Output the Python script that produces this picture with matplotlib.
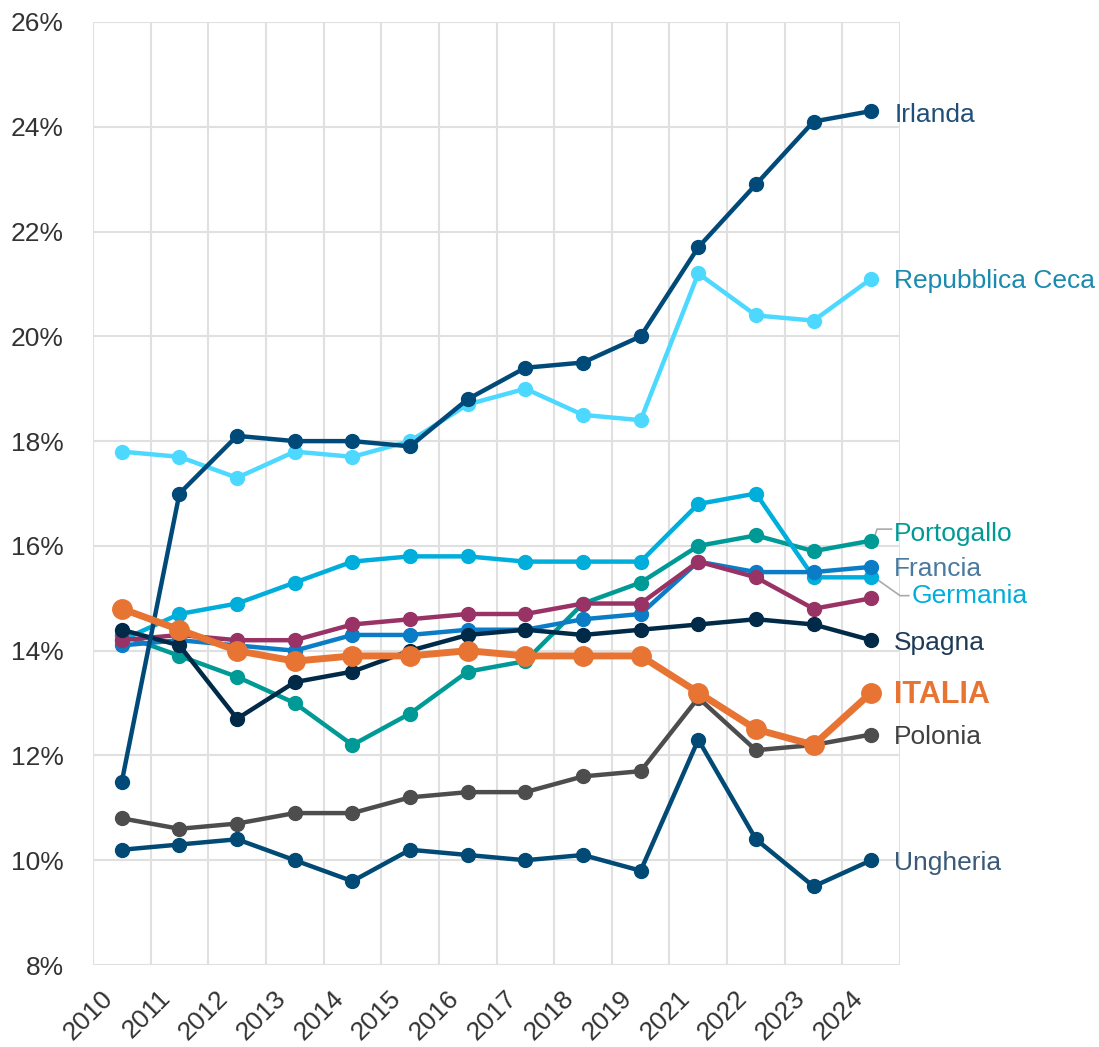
import numpy as np
import matplotlib
matplotlib.use("Agg")
import matplotlib.pyplot as plt
from matplotlib.ticker import FuncFormatter

plt.rcParams['font.family'] = ['Liberation Sans Narrow', 'Liberation Sans', 'DejaVu Sans']

anni = ['2010', '2011', '2012', '2013', '2014', '2015', '2016', '2017', '2018',
        '2019', '2021', '2022', '2023', '2024']

polonia = [10.8, 10.6, 10.7, 10.9, 10.9, 11.2, 11.3, 11.3, 11.6, 11.7, 13.1, 12.1, 12.2, 12.4]
ungheria = [10.2, 10.3, 10.4, 10.0, 9.6, 10.2, 10.1, 10.0, 10.1, 9.8, 12.3, 10.4, 9.5, 10.0]
portogallo = [14.3, 13.9, 13.5, 13.0, 12.2, 12.8, 13.6, 13.8, 14.9, 15.3, 16.0, 16.2, 15.9, 16.1]
germania = [14.2, 14.7, 14.9, 15.3, 15.7, 15.8, 15.8, 15.7, 15.7, 15.7, 16.8, 17.0, 15.4, 15.4]
francia = [14.1, 14.2, 14.1, 14.0, 14.3, 14.3, 14.4, 14.4, 14.6, 14.7, 15.7, 15.5, 15.5, 15.6]
altro = [14.2, 14.3, 14.2, 14.2, 14.5, 14.6, 14.7, 14.7, 14.9, 14.9, 15.7, 15.4, 14.8, 15.0]
spagna = [14.4, 14.1, 12.7, 13.4, 13.6, 14.0, 14.3, 14.4, 14.3, 14.4, 14.5, 14.6, 14.5, 14.2]
rep_ceca = [17.8, 17.7, 17.3, 17.8, 17.7, 18.0, 18.7, 19.0, 18.5, 18.4, 21.2, 20.4, 20.3, 21.1]
irlanda = [11.5, 17.0, 18.1, 18.0, 18.0, 17.9, 18.8, 19.4, 19.5, 20.0, 21.7, 22.9, 24.1, 24.3]
italia = [14.8, 14.4, 14.0, 13.8, 13.9, 13.9, 14.0, 13.9, 13.9, 13.9, 13.2, 12.5, 12.2, 13.2]

# (valori, colore linea, etichetta, colore etichetta, y etichetta)
serie = [
    (polonia, '#4d4d4d', 'Polonia', '#404040', 12.35),
    (ungheria, '#004a75', 'Ungheria', '#3a5a78', 9.95),
    (portogallo, '#009a96', 'Portogallo', '#009a96', 16.22),
    (germania, '#00aedb', 'Germania', '#00aedb', 15.05),
    (francia, '#0b7dc6', 'Francia', '#4a7a9f', 15.55),
    (altro, '#993366', None, None, None),
    (spagna, '#002a48', 'Spagna', '#1f3a55', 14.15),
    (rep_ceca, '#4dd9ff', 'Repubblica Ceca', '#1a8aae', 21.05),
    (irlanda, '#004a7a', 'Irlanda', '#1f4e79', 24.22),
]

fig = plt.figure(figsize=(10.99, 10.47), dpi=100)
ax = fig.add_axes([0.0846, 0.0783, 0.7344, 0.9007])

x = np.arange(len(anni))
for vals, col, lab, lcol, ly in serie:
    ax.plot(x, vals, color=col, lw=3.2, marker='o', ms=10, zorder=3)
    if lab:
        dx = 0.4 if lab != 'Germania' else 0.7
        ax.text(x[-1] + dx, ly, lab, color=lcol, fontsize=19, va='center', ha='left',
                clip_on=False)

ax.plot(x, italia, color='#e87433', lw=5, marker='o', ms=14, zorder=4)
ax.text(x[-1] + 0.4, 13.15, 'ITALIA', color='#e87433', fontsize=22, fontweight='bold',
        va='center', ha='left', clip_on=False)

# linee guida etichette
ax.plot([x[-1] + 0.05, x[-1] + 0.1, x[-1] + 0.35], [16.15, 16.32, 16.32],
        color='#aaaaaa', lw=1.2, clip_on=False, zorder=2)
ax.plot([x[-1] + 0.05, x[-1] + 0.5, x[-1] + 0.65], [15.4, 15.05, 15.05],
        color='#aaaaaa', lw=1.2, clip_on=False, zorder=2)

ax.set_xlim(-0.5, len(anni) - 0.5)
ax.set_ylim(8, 26)
ax.set_yticks(np.arange(8, 27, 2))
ax.yaxis.set_major_formatter(FuncFormatter(lambda v, p: f'{v:.0f}%'))
ax.set_xticks(x)
ax.set_xticklabels([])
ax.set_xticks(np.arange(-0.5, len(anni), 1), minor=True)

# etichette anni ruotate, spostate un po' a sinistra del centro categoria
for i, a in enumerate(anni):
    ax.annotate(a, xy=(i, 0), xycoords=('data', 'axes fraction'),
                xytext=(-9, -21), textcoords='offset points',
                rotation=45, ha='right', va='center', rotation_mode='anchor',
                fontsize=19, color='#333333', annotation_clip=False)

ax.grid(True, axis='y', which='major', color='#e0e0e0', lw=1.5)
ax.grid(True, axis='x', which='minor', color='#e0e0e0', lw=1.5)
ax.set_axisbelow(True)
ax.tick_params(axis='both', which='both', length=0, labelsize=19, colors='#333333')
ax.tick_params(axis='y', pad=21)
for s in ax.spines.values():
    s.set_visible(False)

plt.savefig('out.png', dpi=100)
plt.close()
